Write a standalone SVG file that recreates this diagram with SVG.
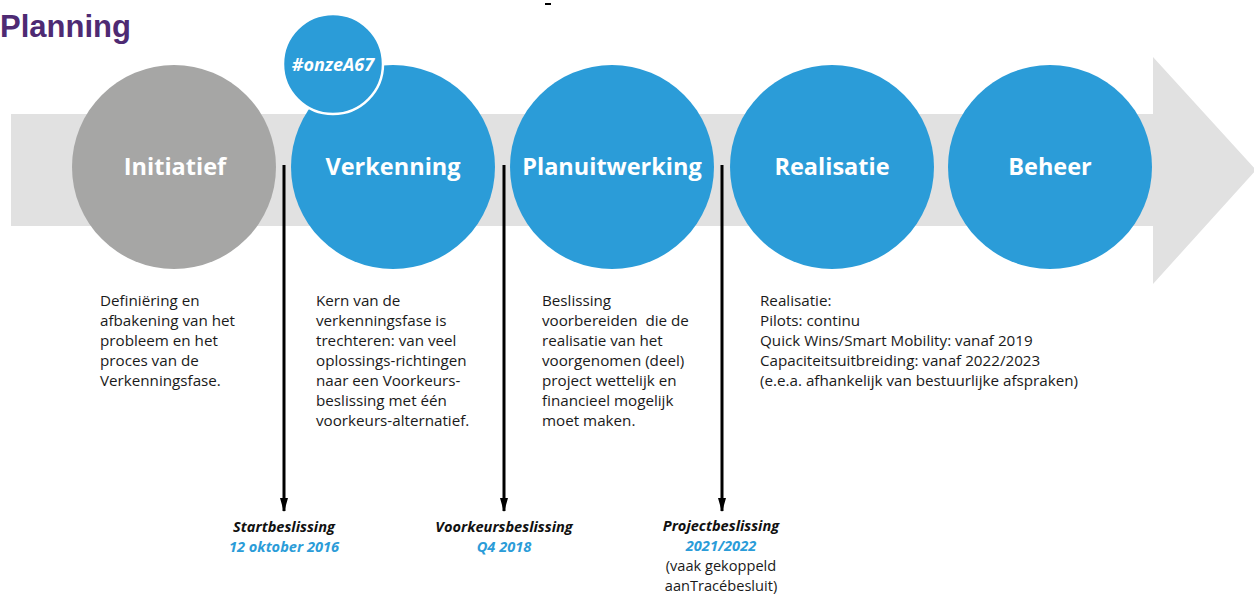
<svg xmlns="http://www.w3.org/2000/svg" width="1254" height="595" viewBox="0 0 1254 595">
<defs>
<style>
.title{font-family:"Liberation Sans",Arial,sans-serif;font-weight:bold;font-size:31px;fill:#4e2a73}
.phase{font-family:"Open Sans","Noto Sans",sans-serif;font-weight:bold;font-size:23.5px;fill:#ffffff;text-anchor:middle}
.blue{fill:#2b9cd8}
.desc{font-family:"Open Sans","Noto Sans",sans-serif;font-size:15.2px;fill:#1a1a1a}
.ms{font-family:"Open Sans","Noto Sans",sans-serif;font-size:14.6px;text-anchor:middle}
.msb{font-weight:bold;font-style:italic;fill:#111111}
.msd{font-weight:bold;font-style:italic;fill:#2b9cd8}
.msn{fill:#1a1a1a}
.conn{stroke:#000000;stroke-width:3;fill:none;marker-end:url(#ah)}
</style>
<marker id="ah" markerWidth="14" markerHeight="9" refX="13" refY="4.5" orient="auto" markerUnits="userSpaceOnUse" viewBox="0 0 14 9">
<path d="M0,0.5 L14,4.5 L0,8.5 Z" fill="#000000"/>
</marker>
</defs>
<rect width="1254" height="595" fill="#ffffff"/>
<rect x="545" y="3" width="6" height="2" fill="#000000"/>
<text class="title" x="0" y="37">Planning</text>
<g id="timeline-arrow">
<path d="M11,114 L1153,114 L1153,57 L1256,170 L1153,284 L1153,226 L11,226 Z" fill="#e1e1e1"/>
</g>
<g id="initiatief">
<circle cx="174" cy="167" r="102" fill="#a6a6a5"/>
<text class="phase" x="175" y="175">Initiatief</text>
</g>
<g id="verkenning">
<circle cx="393" cy="167" r="102" class="blue"/>
<text class="phase" x="393" y="175">Verkenning</text>
</g>
<g id="onzeA67">
<circle cx="333" cy="64" r="50" class="blue" stroke="#ffffff" stroke-width="2.5"/>
<text x="333" y="71" font-family="Open Sans,Noto Sans,sans-serif" font-weight="bold" font-style="italic" font-size="18" fill="#ffffff" text-anchor="middle">#onzeA67</text>
</g>
<g id="planuitwerking">
<circle cx="612" cy="167" r="102" class="blue"/>
<text class="phase" x="612" y="175">Planuitwerking</text>
</g>
<g id="realisatie">
<circle cx="832" cy="167" r="102" class="blue"/>
<text class="phase" x="832" y="175">Realisatie</text>
</g>
<g id="beheer">
<circle cx="1050" cy="167" r="102" class="blue"/>
<text class="phase" x="1050" y="175">Beheer</text>
</g>
<g id="connectors">
<line class="conn" x1="284" y1="165" x2="284" y2="511"/>
<line class="conn" x1="504" y1="165" x2="504" y2="511"/>
<line class="conn" x1="722" y1="165" x2="722" y2="511"/>
</g>
<g id="desc-initiatief">
<text class="desc" x="100" y="306">Definiëring en</text>
<text class="desc" x="100" y="326">afbakening van het</text>
<text class="desc" x="100" y="346">probleem en het</text>
<text class="desc" x="100" y="366">proces van de</text>
<text class="desc" x="100" y="386">Verkenningsfase.</text>
</g>
<g id="desc-verkenning">
<text class="desc" x="316" y="306">Kern van de</text>
<text class="desc" x="316" y="326">verkenningsfase is</text>
<text class="desc" x="316" y="346">trechteren: van veel</text>
<text class="desc" x="316" y="366">oplossings-richtingen</text>
<text class="desc" x="316" y="386">naar een Voorkeurs-</text>
<text class="desc" x="316" y="406">beslissing met één</text>
<text class="desc" x="316" y="426">voorkeurs-alternatief.</text>
</g>
<g id="desc-planuitwerking">
<text class="desc" x="542" y="306">Beslissing</text>
<text class="desc" x="542" y="326" xml:space="preserve">voorbereiden  die de</text>
<text class="desc" x="542" y="346">realisatie van het</text>
<text class="desc" x="542" y="366">voorgenomen (deel)</text>
<text class="desc" x="542" y="386">project wettelijk en</text>
<text class="desc" x="542" y="406">financieel mogelijk</text>
<text class="desc" x="542" y="426">moet maken.</text>
</g>
<g id="desc-realisatie">
<text class="desc" x="760" y="306">Realisatie:</text>
<text class="desc" x="760" y="326">Pilots: continu</text>
<text class="desc" x="760" y="346">Quick Wins/Smart Mobility: vanaf 2019</text>
<text class="desc" x="760" y="366">Capaciteitsuitbreiding: vanaf 2022/2023</text>
<text class="desc" x="760" y="386">(e.e.a. afhankelijk van bestuurlijke afspraken)</text>
</g>
<g id="startbeslissing">
<text class="ms msb" x="284" y="532">Startbeslissing</text>
<text class="ms msd" x="284" y="552">12 oktober 2016</text>
</g>
<g id="voorkeursbeslissing">
<text class="ms msb" x="504" y="532">Voorkeursbeslissing</text>
<text class="ms msd" x="504" y="552">Q4 2018</text>
</g>
<g id="projectbeslissing">
<text class="ms msb" x="721" y="531">Projectbeslissing</text>
<text class="ms msd" x="721" y="551">2021/2022</text>
<text class="ms msn" x="721" y="571">(vaak gekoppeld</text>
<text class="ms msn" x="721" y="591">aanTracébesluit)</text>
</g>
</svg>
